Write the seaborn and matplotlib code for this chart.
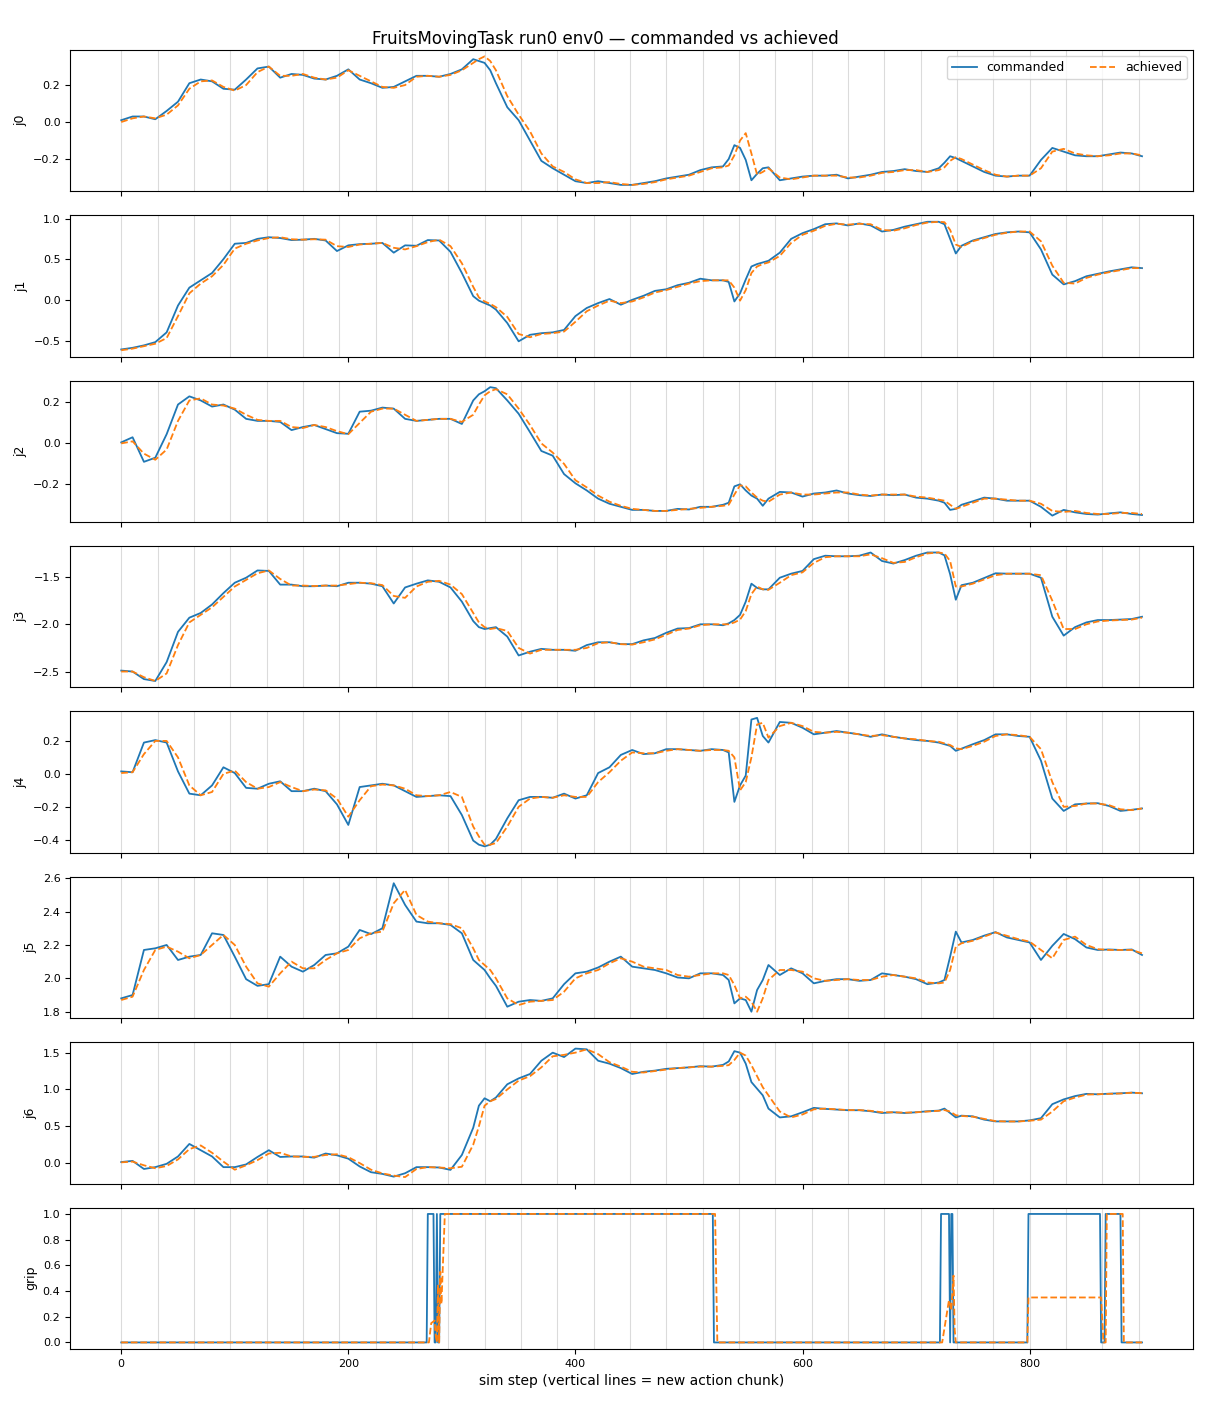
import matplotlib
matplotlib.use("Agg")
import matplotlib.pyplot as plt
from matplotlib.ticker import MultipleLocator
import seaborn as sns

STEPS = [0, 10, 20, 30, 40, 50, 60, 70, 80, 90,
         100, 110, 120, 130, 140, 150, 160, 170, 180, 190,
         200, 210, 220, 230, 240, 250, 260, 270, 280, 290,
         300,
         310, 315, 320, 325, 330,
         340, 350, 360, 370, 380, 390, 400, 410, 420, 430, 440, 450, 460, 470, 480, 490, 500, 510, 520, 530,
         535, 540, 545, 550, 555, 560, 565, 570,
         580, 590, 600, 610, 620, 630, 640, 650, 660, 670, 680, 690, 700, 710, 720,
         725, 730, 735, 740,
         750, 760, 770, 780, 790, 800, 810, 820, 830, 840, 850, 860, 870, 880, 890,
         899]

J0_CMD = [0.01, 0.03, 0.03, 0.015, 0.06, 0.11, 0.21, 0.23, 0.22, 0.18,
          0.175, 0.23, 0.29, 0.30, 0.24, 0.26, 0.255, 0.235, 0.23, 0.25,
          0.285, 0.23, 0.21, 0.185, 0.19, 0.22, 0.25, 0.25, 0.245, 0.26,
          0.285,
          0.34, 0.33, 0.32, 0.28, 0.21,
          0.08, 0.01, -0.10, -0.21, -0.25, -0.285, -0.32, -0.33, -0.32, -0.33, -0.34, -0.34, -0.33, -0.32, -0.305, -0.295, -0.285, -0.26, -0.245, -0.24,
          -0.20, -0.125, -0.14, -0.205, -0.315, -0.28, -0.25, -0.245,
          -0.315, -0.305, -0.295, -0.29, -0.29, -0.285, -0.305, -0.295, -0.285, -0.27, -0.265, -0.255, -0.265, -0.27, -0.25,
          -0.22, -0.185, -0.195, -0.21,
          -0.24, -0.27, -0.29, -0.295, -0.29, -0.29, -0.205, -0.14, -0.16, -0.18, -0.185, -0.185, -0.175, -0.165, -0.17,
          -0.185]
J0_ACH = [0.0, 0.02, 0.03, 0.02, 0.04, 0.09, 0.18, 0.22, 0.225, 0.19,
          0.17, 0.20, 0.27, 0.30, 0.25, 0.25, 0.26, 0.24, 0.23, 0.24,
          0.28, 0.25, 0.22, 0.19, 0.185, 0.20, 0.245, 0.25, 0.245, 0.255,
          0.28,
          0.32, 0.34, 0.355, 0.33, 0.28,
          0.14, 0.04, -0.05, -0.17, -0.24, -0.27, -0.31, -0.33, -0.33, -0.325, -0.335, -0.34, -0.335, -0.325, -0.31, -0.30, -0.29, -0.27, -0.25, -0.245,
          -0.235, -0.18, -0.10, -0.06, -0.17, -0.285, -0.27, -0.25,
          -0.30, -0.31, -0.30, -0.29, -0.29, -0.29, -0.30, -0.30, -0.29, -0.275, -0.27, -0.26, -0.26, -0.27, -0.26,
          -0.245, -0.21, -0.19, -0.20,
          -0.23, -0.26, -0.285, -0.295, -0.29, -0.29, -0.25, -0.16, -0.145, -0.17, -0.18, -0.185, -0.18, -0.17, -0.17,
          -0.18]

J1_CMD = [-0.61, -0.59, -0.56, -0.52, -0.40, -0.07, 0.15, 0.24, 0.33, 0.50,
          0.69, 0.70, 0.75, 0.77, 0.76, 0.735, 0.74, 0.75, 0.73, 0.60,
          0.67, 0.685, 0.69, 0.70, 0.58, 0.67, 0.665, 0.735, 0.73, 0.59,
          0.33,
          0.045, -0.01, -0.04, -0.07, -0.12,
          -0.285, -0.51, -0.43, -0.41, -0.40, -0.37, -0.20, -0.10, -0.04, 0.01, -0.06, 0.0, 0.05, 0.11, 0.13, 0.18, 0.21, 0.26, 0.24, 0.24,
          0.22, -0.02, 0.08, 0.25, 0.41, 0.44, 0.46, 0.48,
          0.58, 0.75, 0.82, 0.87, 0.93, 0.94, 0.915, 0.94, 0.915, 0.84, 0.86, 0.90, 0.93, 0.96, 0.96,
          0.93, 0.75, 0.57, 0.665,
          0.73, 0.77, 0.81, 0.83, 0.84, 0.83, 0.62, 0.31, 0.19, 0.23, 0.29, 0.32, 0.35, 0.375, 0.40,
          0.39]
J1_ACH = [-0.62, -0.60, -0.57, -0.54, -0.47, -0.20, 0.08, 0.20, 0.29, 0.43,
          0.63, 0.69, 0.73, 0.76, 0.77, 0.745, 0.74, 0.745, 0.74, 0.66,
          0.65, 0.68, 0.69, 0.70, 0.64, 0.62, 0.66, 0.71, 0.74, 0.66,
          0.45,
          0.16, 0.03, -0.02, -0.05, -0.09,
          -0.21, -0.42, -0.46, -0.42, -0.41, -0.39, -0.27, -0.14, -0.07, -0.01, -0.04, -0.02, 0.03, 0.09, 0.12, 0.16, 0.20, 0.23, 0.24, 0.24,
          0.24, 0.15, -0.01, 0.12, 0.33, 0.41, 0.44, 0.46,
          0.54, 0.70, 0.80, 0.85, 0.91, 0.935, 0.925, 0.935, 0.93, 0.86, 0.85, 0.88, 0.92, 0.95, 0.96,
          0.955, 0.86, 0.68, 0.65,
          0.72, 0.76, 0.80, 0.825, 0.84, 0.84, 0.72, 0.42, 0.21, 0.20, 0.27, 0.31, 0.34, 0.365, 0.39,
          0.39]

J2_CMD = [0.005, 0.03, -0.09, -0.07, 0.045, 0.19, 0.23, 0.21, 0.18, 0.19,
          0.165, 0.12, 0.11, 0.11, 0.105, 0.065, 0.08, 0.09, 0.07, 0.05,
          0.047, 0.155, 0.16, 0.175, 0.17, 0.12, 0.11, 0.115, 0.12, 0.12,
          0.095,
          0.21, 0.24, 0.255, 0.275, 0.27,
          0.21, 0.145, 0.055, -0.037, -0.06, -0.15, -0.195, -0.23, -0.27, -0.295, -0.31, -0.325, -0.325, -0.33, -0.33, -0.32, -0.323, -0.31, -0.31, -0.30,
          -0.29, -0.21, -0.20, -0.23, -0.255, -0.27, -0.305, -0.27,
          -0.237, -0.24, -0.26, -0.245, -0.24, -0.23, -0.245, -0.253, -0.257, -0.25, -0.253, -0.25, -0.265, -0.27, -0.28,
          -0.29, -0.325, -0.32, -0.30,
          -0.283, -0.265, -0.27, -0.28, -0.28, -0.28, -0.31, -0.353, -0.325, -0.337, -0.345, -0.348, -0.342, -0.337, -0.345,
          -0.35]
J2_ACH = [0.0, 0.01, -0.05, -0.08, -0.03, 0.11, 0.21, 0.22, 0.19, 0.185,
          0.17, 0.14, 0.115, 0.11, 0.11, 0.08, 0.075, 0.09, 0.08, 0.06,
          0.045, 0.10, 0.155, 0.17, 0.17, 0.14, 0.11, 0.115, 0.12, 0.12,
          0.105,
          0.14, 0.19, 0.235, 0.255, 0.265,
          0.24, 0.17, 0.09, 0.0, -0.045, -0.10, -0.18, -0.215, -0.255, -0.285, -0.305, -0.32, -0.325, -0.33, -0.33, -0.325, -0.32, -0.315, -0.31, -0.305,
          -0.30, -0.25, -0.205, -0.21, -0.24, -0.265, -0.28, -0.285,
          -0.25, -0.24, -0.25, -0.25, -0.245, -0.24, -0.24, -0.25, -0.255, -0.25, -0.25, -0.25, -0.26, -0.265, -0.275,
          -0.28, -0.30, -0.32, -0.31,
          -0.29, -0.27, -0.27, -0.275, -0.28, -0.28, -0.295, -0.33, -0.335, -0.33, -0.34, -0.345, -0.345, -0.34, -0.34,
          -0.345]

J3_CMD = [-2.49, -2.50, -2.58, -2.60, -2.40, -2.08, -1.93, -1.88, -1.79, -1.67,
          -1.56, -1.507, -1.43, -1.435, -1.58, -1.58, -1.597, -1.597, -1.59, -1.597,
          -1.56, -1.56, -1.57, -1.597, -1.78, -1.61, -1.57, -1.535, -1.55, -1.61,
          -1.76,
          -1.966, -2.03, -2.05, -2.04, -2.03,
          -2.13, -2.33, -2.29, -2.26, -2.27, -2.27, -2.28, -2.22, -2.19, -2.19, -2.21, -2.21, -2.17, -2.145, -2.09, -2.045, -2.04, -2.0, -2.0, -2.01,
          -1.99, -1.955, -1.90, -1.76, -1.57, -1.615, -1.63, -1.63,
          -1.507, -1.464, -1.435, -1.31, -1.274, -1.28, -1.28, -1.274, -1.24, -1.33, -1.357, -1.32, -1.274, -1.24, -1.24,
          -1.27, -1.47, -1.74, -1.586,
          -1.56, -1.51, -1.46, -1.464, -1.464, -1.464, -1.507, -1.92, -2.12, -2.03, -1.98, -1.955, -1.955, -1.95, -1.944,
          -1.92]
J3_ACH = [-2.50, -2.50, -2.56, -2.60, -2.52, -2.22, -1.98, -1.90, -1.82, -1.71,
          -1.60, -1.53, -1.46, -1.43, -1.52, -1.59, -1.59, -1.595, -1.59, -1.59,
          -1.575, -1.56, -1.565, -1.585, -1.70, -1.72, -1.60, -1.55, -1.54, -1.58,
          -1.68,
          -1.88, -1.98, -2.03, -2.05, -2.04,
          -2.07, -2.25, -2.31, -2.27, -2.27, -2.27, -2.27, -2.25, -2.20, -2.19, -2.21, -2.215, -2.19, -2.16, -2.11, -2.06, -2.045, -2.01, -2.0, -2.0,
          -2.0, -1.98, -1.95, -1.86, -1.68, -1.60, -1.63, -1.635,
          -1.56, -1.48, -1.45, -1.35, -1.29, -1.28, -1.28, -1.28, -1.26, -1.30, -1.35, -1.34, -1.29, -1.25, -1.24,
          -1.25, -1.33, -1.60, -1.60,
          -1.57, -1.525, -1.48, -1.465, -1.465, -1.465, -1.48, -1.75, -2.05, -2.05, -2.0, -1.97, -1.96, -1.955, -1.95,
          -1.93]

J4_CMD = [0.015, 0.01, 0.19, 0.205, 0.19, 0.015, -0.12, -0.13, -0.07, 0.04,
          0.005, -0.085, -0.09, -0.06, -0.045, -0.105, -0.105, -0.09, -0.105, -0.185,
          -0.31, -0.08, -0.07, -0.06, -0.07, -0.105, -0.14, -0.135, -0.13, -0.135,
          -0.25,
          -0.405, -0.43, -0.44, -0.43, -0.395,
          -0.27, -0.16, -0.14, -0.14, -0.145, -0.12, -0.15, -0.13, 0.005, 0.04, 0.115, 0.145, 0.12, 0.125, 0.15, 0.15, 0.145, 0.14, 0.15, 0.145,
          0.13, -0.17, -0.07, -0.01, 0.33, 0.34, 0.23, 0.19,
          0.315, 0.31, 0.28, 0.24, 0.25, 0.26, 0.25, 0.24, 0.225, 0.24, 0.225, 0.215, 0.205, 0.20, 0.19,
          0.18, 0.17, 0.14, 0.153,
          0.18, 0.205, 0.24, 0.24, 0.23, 0.225, 0.08, -0.15, -0.225, -0.185, -0.18, -0.178, -0.195, -0.225, -0.218,
          -0.21]
J4_ACH = [0.005, 0.01, 0.12, 0.20, 0.20, 0.10, -0.07, -0.13, -0.11, 0.0,
          0.02, -0.05, -0.09, -0.08, -0.05, -0.08, -0.105, -0.095, -0.10, -0.15,
          -0.26, -0.16, -0.075, -0.065, -0.07, -0.09, -0.13, -0.135, -0.13, -0.11,
          -0.14,
          -0.32, -0.38, -0.43, -0.43, -0.42,
          -0.32, -0.20, -0.15, -0.14, -0.145, -0.13, -0.14, -0.14, -0.05, 0.01, 0.08, 0.13, 0.125, 0.125, 0.14, 0.15, 0.145, 0.14, 0.145, 0.145,
          0.14, 0.10, -0.10, -0.05, 0.10, 0.30, 0.31, 0.22,
          0.29, 0.31, 0.29, 0.255, 0.25, 0.255, 0.25, 0.24, 0.23, 0.235, 0.225, 0.215, 0.21, 0.20, 0.195,
          0.185, 0.175, 0.155, 0.15,
          0.17, 0.195, 0.23, 0.24, 0.235, 0.225, 0.15, -0.05, -0.20, -0.195, -0.18, -0.18, -0.19, -0.215, -0.22,
          -0.21]

J5_CMD = [1.88, 1.90, 2.17, 2.18, 2.20, 2.11, 2.13, 2.14, 2.27, 2.26,
          2.13, 1.995, 1.955, 1.965, 2.13, 2.07, 2.04, 2.08, 2.14, 2.15,
          2.19, 2.29, 2.265, 2.30, 2.57, 2.44, 2.34, 2.33, 2.33, 2.32,
          2.27,
          2.11, 2.08, 2.05, 2.0, 1.955,
          1.83, 1.86, 1.87, 1.865, 1.88, 1.965, 2.03, 2.04, 2.065, 2.10, 2.13, 2.07, 2.06, 2.05, 2.03, 2.005, 2.0, 2.03, 2.03, 2.02,
          1.99, 1.85, 1.88, 1.87, 1.80, 1.93, 1.99, 2.08,
          2.02, 2.06, 2.03, 1.97, 1.985, 1.995, 1.995, 1.985, 1.99, 2.03, 2.02, 2.01, 1.995, 1.965, 1.975,
          1.99, 2.13, 2.28, 2.215,
          2.23, 2.256, 2.277, 2.245, 2.23, 2.215, 2.11, 2.195, 2.266, 2.235, 2.185, 2.17, 2.173, 2.17, 2.173,
          2.14]
J5_ACH = [1.87, 1.89, 2.05, 2.17, 2.19, 2.16, 2.12, 2.14, 2.20, 2.26,
          2.20, 2.07, 1.97, 1.95, 2.03, 2.10, 2.06, 2.06, 2.11, 2.15,
          2.17, 2.24, 2.27, 2.28, 2.45, 2.53, 2.38, 2.34, 2.33, 2.325,
          2.30,
          2.18, 2.11, 2.08, 2.05, 2.0,
          1.88, 1.84, 1.86, 1.865, 1.87, 1.92, 2.0, 2.03, 2.05, 2.09, 2.12, 2.10, 2.07, 2.06, 2.05, 2.02, 2.01, 2.02, 2.03, 2.03,
          2.02, 1.96, 1.88, 1.89, 1.86, 1.80, 1.88, 1.99,
          2.05, 2.05, 2.04, 2.0, 1.985, 1.99, 1.995, 1.99, 1.99, 2.01, 2.02, 2.01, 2.0, 1.975, 1.97,
          1.975, 2.05, 2.19, 2.21,
          2.225, 2.25, 2.275, 2.255, 2.235, 2.22, 2.17, 2.12, 2.23, 2.25, 2.20, 2.175, 2.17, 2.17, 2.17,
          2.15]

J6_CMD = [0.014, 0.03, -0.08, -0.055, -0.01, 0.09, 0.26, 0.175, 0.09, -0.055,
          -0.055, -0.018, 0.083, 0.175, 0.083, 0.09, 0.09, 0.074, 0.13, 0.106,
          0.06, -0.046, -0.124, -0.147, -0.184, -0.138, -0.055, -0.055, -0.06, -0.092,
          0.11,
          0.48, 0.78, 0.88, 0.84, 0.89,
          1.07, 1.15, 1.21, 1.39, 1.50, 1.44, 1.555, 1.545, 1.39, 1.35, 1.29, 1.21, 1.24, 1.256, 1.28, 1.29, 1.30, 1.316, 1.31, 1.334,
          1.38, 1.52, 1.50, 1.35, 1.10, 1.01, 0.92, 0.74,
          0.62, 0.635, 0.69, 0.75, 0.736, 0.727, 0.718, 0.718, 0.704, 0.68, 0.69, 0.68, 0.69, 0.704, 0.713,
          0.74, 0.68, 0.62, 0.644,
          0.635, 0.59, 0.566, 0.566, 0.566, 0.58, 0.61, 0.80, 0.865, 0.91, 0.94, 0.934, 0.943, 0.948, 0.957,
          0.948]
J6_ACH = [0.01, 0.02, -0.03, -0.07, -0.04, 0.05, 0.19, 0.24, 0.14, 0.02,
          -0.09, -0.03, 0.04, 0.13, 0.14, 0.09, 0.085, 0.085, 0.11, 0.12,
          0.08, 0.0, -0.09, -0.14, -0.17, -0.19, -0.08, -0.055, -0.06, -0.07,
          -0.05,
          0.25, 0.50, 0.78, 0.84, 0.87,
          1.0, 1.12, 1.18, 1.30, 1.45, 1.47, 1.50, 1.545, 1.48, 1.37, 1.31, 1.24, 1.23, 1.25, 1.27, 1.29, 1.30, 1.31, 1.31, 1.32,
          1.33, 1.40, 1.50, 1.46, 1.33, 1.18, 1.03, 0.92,
          0.70, 0.62, 0.66, 0.73, 0.74, 0.73, 0.72, 0.72, 0.71, 0.69, 0.69, 0.685, 0.69, 0.70, 0.71,
          0.72, 0.70, 0.65, 0.64,
          0.63, 0.60, 0.57, 0.565, 0.565, 0.575, 0.59, 0.70, 0.84, 0.89, 0.93, 0.935, 0.94, 0.945, 0.955,
          0.95]

# gripper is a switch, so it gets its own step points at the transitions
GRIP_CMD_STEPS = [0, 269, 270, 275, 276, 277, 278, 279, 280, 281, 521, 522,
                  721, 722, 729, 730, 731, 732, 733, 734, 798, 799, 862, 863,
                  866, 867, 880, 881, 899]
GRIP_CMD = [0, 0, 1, 1, 0, 0, 1, 0, 0, 1, 1, 0,
            0, 1, 1, 0, 1, 1, 0, 0, 0, 1, 1, 0,
            0, 1, 1, 0, 0]
GRIP_ACH_STEPS = [0, 271, 273, 276, 277, 278, 279, 280, 281, 282, 285, 523, 525,
                  723, 729, 731, 733, 734, 735, 798, 799, 863, 865, 867, 868,
                  882, 883, 899]
GRIP_ACH = [0, 0, 0.15, 0.17, 0.05, 0.0, 0.45, 0.0, 0.55, 0.3, 1.0, 1.0, 0.0,
            0.0, 0.33, 0.25, 0.52, 0.1, 0.0, 0.0, 0.35, 0.35, 0.0, 0.0, 1.0,
            1.0, 0.0, 0.0]

# start of each new action chunk
CHUNK_STARTS = [0, 32, 64, 96, 128, 160, 192, 224, 256, 288, 320, 352, 384, 416,
                448, 480, 512, 544, 576, 608, 640, 672, 704, 736, 768, 800, 832,
                864, 896]

panels = [
    ("j0", STEPS, J0_CMD, STEPS, J0_ACH),
    ("j1", STEPS, J1_CMD, STEPS, J1_ACH),
    ("j2", STEPS, J2_CMD, STEPS, J2_ACH),
    ("j3", STEPS, J3_CMD, STEPS, J3_ACH),
    ("j4", STEPS, J4_CMD, STEPS, J4_ACH),
    ("j5", STEPS, J5_CMD, STEPS, J5_ACH),
    ("j6", STEPS, J6_CMD, STEPS, J6_ACH),
    ("grip", GRIP_CMD_STEPS, GRIP_CMD, GRIP_ACH_STEPS, GRIP_ACH),
]

fig, axes = plt.subplots(8, 1, figsize=(12.1, 14.08), dpi=100, sharex=True)
fig.subplots_adjust(left=0.058, right=0.986, top=0.9645, bottom=0.042, hspace=0.17)

for i, (name, xc, yc, xa, ya) in enumerate(panels):
    ax = axes[i]
    for c in CHUNK_STARTS:
        ax.axvline(c, color="0.86", lw=0.8, zorder=0)
    sns.lineplot(x=xc, y=yc, ax=ax, color="tab:blue", lw=1.3,
                 estimator=None, errorbar=None, sort=False,
                 label="commanded" if i == 0 else None, legend=False)
    sns.lineplot(x=xa, y=ya, ax=ax, color="tab:orange", lw=1.3, linestyle="--",
                 estimator=None, errorbar=None, sort=False,
                 label="achieved" if i == 0 else None, legend=False)
    ax.set_ylabel(name, fontsize=9)
    ax.tick_params(labelsize=8)

# j3 ticks every 0.5 like the original
axes[3].yaxis.set_major_locator(MultipleLocator(0.5))

axes[0].legend(loc="upper right", ncol=2, fontsize=9)
axes[-1].set_xlabel("sim step (vertical lines = new action chunk)", fontsize=10)
fig.suptitle("FruitsMovingTask run0 env0 — commanded vs achieved", fontsize=12, y=0.979)

fig.savefig("out.png", dpi=100)
